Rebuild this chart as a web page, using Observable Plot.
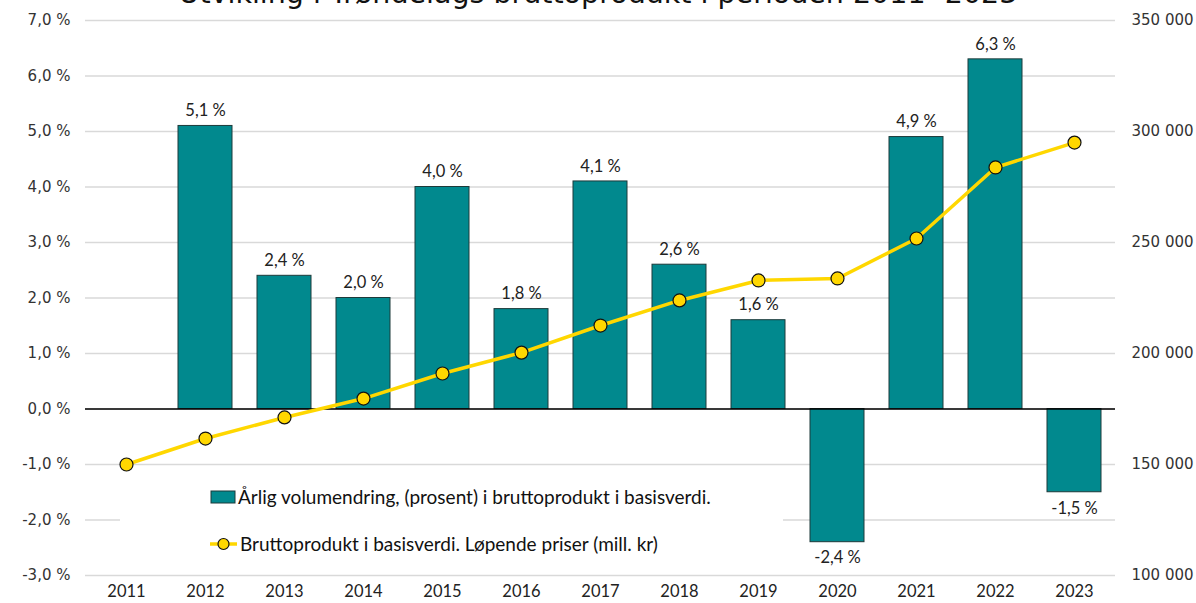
<!DOCTYPE html>
<html>
<head>
<meta charset="utf-8">
<script src="https://cdn.jsdelivr.net/npm/d3@7"></script>
<script src="https://cdn.jsdelivr.net/npm/@observablehq/plot@0.6"></script>
<style>
  html, body { margin: 0; padding: 0; background: #fff; overflow: hidden; }
  #wrap { position: relative; width: 1196px; height: 603px; overflow: hidden; }
  #title { position: absolute; left: 0; width: 1196px; top: -20px; text-align: center;
           font: 28.5px/28px "DejaVu Sans", sans-serif; color: #111; white-space: nowrap; z-index: 3; }
  #legend { position: absolute; left: 120px; top: 472px; width: 663px; height: 96px; background: #fff;
            font-family: Lato, sans-serif; font-size: 19px; color: #111; z-index: 2; }
  .row { position: absolute; left: 90px; display: flex; align-items: center; white-space: nowrap; }
  .row svg { display: block; margin-right: 2px; }
</style>
</head>
<body>
<div id="wrap">
  <div id="title"></div>
  <div id="chart"></div>
  <div id="legend"></div>
</div>
<script>
const years = ["2011","2012","2013","2014","2015","2016","2017","2018","2019","2020","2021","2022","2023"];
const volumeChange = [null, 5.1, 2.4, 2.0, 4.0, 1.8, 4.1, 2.6, 1.6, -2.4, 4.9, 6.3, -1.5];
const grossProduct = [150000, 161700, 171200, 179700, 191000, 200400, 212600, 223900, 232900, 233800, 251800, 283800, 295000];
const leftTicks = [-3, -2, -1, 0, 1, 2, 3, 4, 5, 6, 7];
const rightTicks = [100000, 150000, 200000, 250000, 300000, 350000];
const titleText = "Utvikling i Trøndelags bruttoprodukt i perioden 2011- 2023";
const barLabel = "Årlig volumendring, (prosent) i bruttoprodukt i basisverdi.";
const lineLabel = "Bruttoprodukt i basisverdi. Løpende priser (mill. kr)";

const teal = "#01898E";
const yellow = "#FFD700";

// map right-axis values onto left-axis domain
const toLeft = v => -3 + (v - 100000) / 25000;
const fromLeft = p => 100000 + (p + 3) * 25000;

const bars = years.map((y, i) => ({year: y, value: volumeChange[i]})).filter(d => d.value != null);
const line = years.map((y, i) => ({year: y, value: grossProduct[i]}));

const fmtPct = d => d.toFixed(1).replace(".", ",") + " %";
const fmtNum = v => d3.format(",")(Math.round(v)).replace(/,/g, " ");

document.getElementById("title").textContent = titleText;

const chart = Plot.plot({
  width: 1196,
  height: 603,
  marginLeft: 85,
  marginRight: 81,
  marginTop: 20,
  marginBottom: 28,
  style: {fontFamily: "Lato, sans-serif", background: "transparent"},
  x: {type: "band", domain: years, paddingInner: 0.32, paddingOuter: 0.16, label: null},
  y: {domain: [-3, 7], label: null},
  marks: [
    Plot.gridY(leftTicks, {stroke: "#d9d9d9", strokeOpacity: 1, strokeWidth: 1.5}),
    Plot.axisY(leftTicks, {anchor: "left", tickSize: 0, tickPadding: 15, tickFormat: fmtPct,
      fontFamily: "DejaVu Sans", fontSize: 15, fill: "#333", label: null}),
    Plot.axisY(rightTicks.map(toLeft), {anchor: "right", tickSize: 0, tickPadding: 16,
      tickFormat: d => fmtNum(fromLeft(d)), fontFamily: "DejaVu Sans", fontSize: 15, fill: "#333", label: null}),
    Plot.axisX({tickSize: 0, tickPadding: 10, fontSize: 16.5, fill: "#222", label: null}),
    Plot.barY(bars, {x: "year", y: "value", fill: teal, stroke: "#1d3a3a", strokeWidth: 1}),
    Plot.ruleY([0], {stroke: "#000", strokeWidth: 1.5}),
    Plot.line(line, {x: "year", y: d => toLeft(d.value), stroke: yellow, strokeWidth: 3.5}),
    Plot.dot(line, {x: "year", y: d => toLeft(d.value), r: 6.5, fill: yellow, stroke: "#111", strokeWidth: 1.2}),
    Plot.text(bars.filter(d => d.value >= 0), {x: "year", y: "value", text: d => fmtPct(d.value),
      dy: -15, fontSize: 16.5, fill: "#222"}),
    Plot.text(bars.filter(d => d.value < 0), {x: "year", y: "value", text: d => fmtPct(d.value),
      dy: 16, fontSize: 16.5, fill: "#222"})
  ]
});
document.getElementById("chart").appendChild(chart);

const legend = document.getElementById("legend");
legend.innerHTML = `
  <div class="row" style="top:13px">
    <svg width="26" height="16"><rect x="1" y="2" width="24" height="12" fill="${teal}" stroke="#1d3a3a" stroke-width="1"/></svg>
    <span></span>
  </div>
  <div class="row" style="top:60px">
    <svg width="28" height="16"><line x1="0" x2="27" y1="8" y2="8" stroke="${yellow}" stroke-width="3.5"/><circle cx="13.5" cy="8" r="5.5" fill="${yellow}" stroke="#111" stroke-width="1.2"/></svg>
    <span></span>
  </div>`;
const spans = legend.querySelectorAll("span");
spans[0].textContent = barLabel;
spans[1].textContent = lineLabel;
</script>
</body>
</html>
